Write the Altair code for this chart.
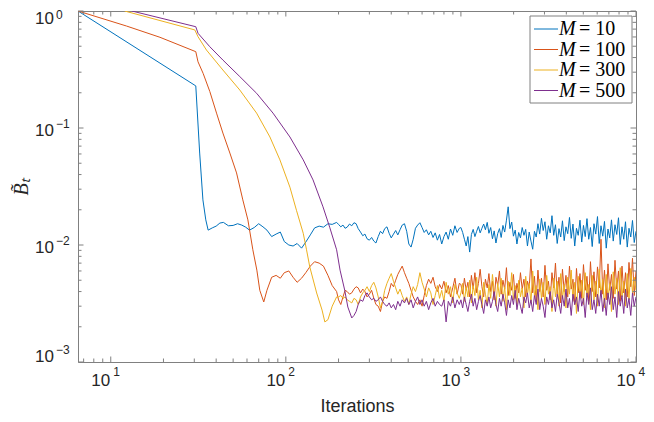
import altair as alt
import pandas as pd

# ---------------- data ----------------
series_names = ["M = 10", "M = 100", "M = 300", "M = 500"]
legend_numbers = ["= 10", "= 100", "= 300", "= 500"]
colors = ["#0072BD", "#D95319", "#EDB120", "#7E2F8E"]

# iteration grid of the noisy tails, three stretches
iters_a = [36, 38, 40, 42, 44, 47, 50, 53, 56, 59, 62, 66, 70, 74, 78, 83, 88, 93, 98, 104,
           110, 116, 123, 130, 138, 146, 155, 164, 174, 184, 195]
iters_b = [200, 206, 212, 218, 224, 231, 238, 245, 252, 259, 267, 275, 283, 291, 300,
           309, 318, 327, 337, 347, 357, 367, 378, 389, 400, 412, 424, 436, 449, 462,
           476, 490, 504, 519, 534, 550, 566, 583, 600, 617, 635, 654, 673, 693, 713,
           734, 755, 777, 800, 823, 847, 872, 898, 924, 951, 979]
iters_c = [1000, 1023, 1047, 1072, 1096, 1122, 1148, 1175, 1202, 1230,
           1259, 1288, 1318, 1349, 1380, 1413, 1445, 1479, 1514, 1549,
           1585, 1622, 1660, 1698, 1738, 1778, 1820, 1862, 1905, 1950,
           1995, 2042, 2089, 2138, 2188, 2239, 2291, 2344, 2399, 2455,
           2512, 2570, 2630, 2692, 2754, 2818, 2884, 2951, 3020, 3090,
           3162, 3236, 3311, 3388, 3467, 3548, 3631, 3715, 3802, 3890,
           3981, 4074, 4169, 4266, 4365, 4467, 4571, 4677, 4786, 4898,
           5012, 5129, 5248, 5370, 5495, 5623, 5754, 5888, 6026, 6166,
           6310, 6457, 6607, 6761, 6918, 7079, 7244, 7413, 7586, 7762,
           7943, 8128, 8318, 8511, 8710, 8913, 9120, 9333, 9550, 9772, 10000]

# ---- M = 10 ----
m10_head_iters = [6.5, 30.6, 32.2, 33.6, 34.9]
m10_head_vals = [1.0, 0.229, 0.0611, 0.0243, 0.0164]
m10_a = [0.0134, 0.0140, 0.0145, 0.0154, 0.0156, 0.0146, 0.0147, 0.0152, 0.0148, 0.0142,
         0.0134, 0.0141, 0.0152, 0.0143, 0.0134, 0.0118, 0.0124, 0.0129, 0.0107, 0.0100,
         0.0098, 0.0103, 0.0094, 0.0106, 0.0122, 0.0140, 0.0145, 0.0142, 0.0152, 0.0150,
         0.0156]
m10_b = [0.0150, 0.0143, 0.0148, 0.0139, 0.0142, 0.0151, 0.0146, 0.0155, 0.0152, 0.0138,
         0.0129, 0.0120, 0.0124, 0.0113, 0.0110, 0.0116, 0.0108, 0.0104, 0.0118, 0.0131,
         0.0125, 0.0138, 0.0143, 0.0126, 0.0115, 0.0124, 0.0133, 0.0122, 0.0135, 0.0148,
         0.0152, 0.0131, 0.0102, 0.0096, 0.0112, 0.0139, 0.0148, 0.0155, 0.0141, 0.0128,
         0.0135, 0.0122, 0.0131, 0.0116, 0.0127, 0.0110, 0.0123, 0.0102, 0.0118, 0.0129,
         0.0112, 0.0137, 0.0121, 0.0146, 0.0128, 0.0139]
m10_c = [0.0141, 0.0128, 0.0112, 0.0098, 0.0118, 0.0087, 0.0123, 0.0136, 0.0118, 0.0131,
         0.0144, 0.0127, 0.0139, 0.0151, 0.0135, 0.0156, 0.0126, 0.0141, 0.0113, 0.0132,
         0.0104, 0.0125, 0.0138, 0.0116, 0.0147, 0.0129, 0.0163, 0.0212, 0.0138, 0.0157,
         0.0119, 0.0134, 0.0102, 0.0128, 0.0115, 0.0141, 0.0121, 0.0136, 0.0098, 0.0129,
         0.0108, 0.0092, 0.0131, 0.0117, 0.0152, 0.0124, 0.0169, 0.0133, 0.0158, 0.0112,
         0.0146, 0.0127, 0.0178, 0.0121, 0.0149, 0.0103, 0.0138, 0.0117, 0.0161, 0.0109,
         0.0143, 0.0125, 0.0172, 0.0114, 0.0151, 0.0098, 0.0139, 0.0121, 0.0163, 0.0106,
         0.0147, 0.0118, 0.0168, 0.0112, 0.0141, 0.0097, 0.0152, 0.0124, 0.0175, 0.0103,
         0.0146, 0.0119, 0.0159, 0.0094, 0.0137, 0.0115, 0.0164, 0.0108, 0.0149, 0.0123,
         0.0171, 0.0101, 0.0143, 0.0112, 0.0158, 0.0096, 0.0139, 0.0117, 0.0162, 0.0105,
         0.0131]

# ---- M = 100 ----
m100_head_iters = [6.5, 12.3, 19.1, 30.6, 31.5, 33.7, 36.8, 40.2, 43.7, 47.9, 52.3, 56.8,
                   60.7, 64.8, 68.3, 71.0, 74.8]
m100_head_vals = [1.0, 0.744, 0.596, 0.449, 0.368, 0.293, 0.205, 0.134, 0.0905, 0.0611,
                  0.0413, 0.0243, 0.0164, 0.0091, 0.0061, 0.0041, 0.00326]
m100_a = [0.0041, 0.0053, 0.0055, 0.0052, 0.0058, 0.0060, 0.0053, 0.0048, 0.0052, 0.0058,
          0.0066, 0.0072, 0.0070, 0.0066, 0.0055, 0.0045, 0.0040]
m100_b = [0.0034, 0.0031, 0.0036, 0.0041, 0.0040, 0.0038, 0.0039, 0.0042, 0.0044, 0.0043,
          0.0039, 0.0042, 0.0040, 0.0036, 0.0038, 0.0041, 0.0035, 0.0031, 0.0030, 0.0027,
          0.0033, 0.0036, 0.0035, 0.0040, 0.0047, 0.0044, 0.0050, 0.0056, 0.0061, 0.0066,
          0.0058, 0.0052, 0.0047, 0.0041, 0.0036, 0.0033, 0.0031, 0.0034, 0.0030, 0.0037,
          0.0045, 0.0051, 0.0047, 0.0053, 0.0044, 0.0040, 0.0046, 0.0042, 0.0049, 0.0039,
          0.0045, 0.0036, 0.0043, 0.0052, 0.0038, 0.0047]
m100_c = [0.0046, 0.0038, 0.0052, 0.0041, 0.0048, 0.0036, 0.0055, 0.0042, 0.0058, 0.0039,
          0.0047, 0.0062, 0.0044, 0.0036, 0.0051, 0.0043, 0.0057, 0.0040, 0.0049, 0.0034,
          0.0053, 0.0045, 0.0060, 0.0038, 0.0050, 0.0042, 0.0064, 0.0037, 0.0048, 0.0041,
          0.0056, 0.0035, 0.0047, 0.0039, 0.0058, 0.0042, 0.0051, 0.0036, 0.0049, 0.0043,
          0.0076, 0.0039, 0.0054, 0.0033, 0.0061, 0.0040, 0.0052, 0.0036, 0.0067, 0.0041,
          0.0049, 0.0034, 0.0058, 0.0043, 0.0070, 0.0038, 0.0053, 0.0032, 0.0062, 0.0040,
          0.0055, 0.0036, 0.0066, 0.0042, 0.0051, 0.0031, 0.0063, 0.0039, 0.0057, 0.0035,
          0.0068, 0.0041, 0.0054, 0.0033, 0.0072, 0.0040, 0.0059, 0.0036, 0.0065, 0.0043,
          0.0112, 0.0038, 0.0061, 0.0034, 0.0069, 0.0041, 0.0056, 0.0035, 0.0074, 0.0042,
          0.0060, 0.0033, 0.0066, 0.0039, 0.0058, 0.0036, 0.0071, 0.0044, 0.0077, 0.0037,
          0.0060]

# ---- M = 300 ----
m300_head_iters = [12.0, 30.2, 31.5, 35.2, 43.7, 54.6, 68.1, 81.1, 92.5, 105.5, 115, 125.7,
                   131.3, 137, 150, 161, 167]
m300_head_vals = [1.0, 0.689, 0.603, 0.464, 0.313, 0.211, 0.134, 0.0838, 0.0534, 0.0312,
                  0.0198, 0.0126, 0.0091, 0.0065, 0.00389, 0.00278, 0.0022]
m300_a = [0.0023, 0.0030, 0.0036]
m300_b = [0.0036, 0.0037, 0.0035, 0.0036, 0.0034, 0.0033, 0.0032, 0.0035, 0.0034, 0.0031,
          0.0036, 0.0039, 0.0041, 0.0044, 0.0040, 0.0045, 0.0048, 0.0043, 0.0036, 0.0029,
          0.0033, 0.0041, 0.0047, 0.0052, 0.0057, 0.0049, 0.0043, 0.0038, 0.0042, 0.0037,
          0.0033, 0.0036, 0.0031, 0.0038, 0.0044, 0.0040, 0.0046, 0.0058, 0.0048, 0.0042,
          0.0036, 0.0043, 0.0039, 0.0031, 0.0037, 0.0045, 0.0035, 0.0041, 0.0033, 0.0048,
          0.0038, 0.0044, 0.0032, 0.0046, 0.0039, 0.0035]
m300_c = [0.0039, 0.0047, 0.0033, 0.0044, 0.0036, 0.0050, 0.0032, 0.0045, 0.0037, 0.0053,
          0.0034, 0.0041, 0.0029, 0.0048, 0.0038, 0.0031, 0.0046, 0.0035, 0.0056, 0.0040,
          0.0030, 0.0047, 0.0036, 0.0052, 0.0033, 0.0044, 0.0028, 0.0049, 0.0037, 0.0058,
          0.0034, 0.0045, 0.0031, 0.0050, 0.0036, 0.0043, 0.0029, 0.0054, 0.0038, 0.0047,
          0.0032, 0.0060, 0.0037, 0.0045, 0.0028, 0.0051, 0.0035, 0.0048, 0.0031, 0.0055,
          0.0038, 0.0044, 0.0027, 0.0052, 0.0036, 0.0049, 0.0030, 0.0057, 0.0035, 0.0046,
          0.0029, 0.0053, 0.0038, 0.0061, 0.0033, 0.0048, 0.0026, 0.0054, 0.0037, 0.0050,
          0.0031, 0.0058, 0.0036, 0.0046, 0.0028, 0.0055, 0.0034, 0.0049, 0.0030, 0.0062,
          0.0037, 0.0051, 0.0029, 0.0056, 0.0035, 0.0047, 0.0027, 0.0059, 0.0038, 0.0052,
          0.0031, 0.0064, 0.0036, 0.0049, 0.0030, 0.0057, 0.0034, 0.0063, 0.0039, 0.0053,
          0.0041]

# ---- M = 500 ----
m500_head_iters = [13.2, 30.6, 31.5, 36.8, 43.7, 54.6, 68.1, 84.5, 105.5, 125.7, 143, 163,
                   178, 195, 204, 217, 226, 238]
m500_head_vals = [1.0, 0.734, 0.645, 0.495, 0.381, 0.275, 0.198, 0.134, 0.0838, 0.0534,
                  0.036, 0.0212, 0.0142, 0.0091, 0.0061, 0.0041, 0.00295, 0.00238]
m500_b = [0.0025, 0.0027, 0.0031, 0.0034, 0.0033, 0.0037, 0.0039, 0.0036, 0.0034, 0.0035,
          0.0033, 0.0034, 0.0036, 0.0033, 0.0031, 0.0030, 0.0032, 0.0029, 0.0031, 0.0028,
          0.0033, 0.0030, 0.0034, 0.0032, 0.0035, 0.0031, 0.0034, 0.0029, 0.0033, 0.0036,
          0.0031, 0.0034, 0.0030, 0.0033, 0.0028, 0.0032, 0.0035, 0.0030, 0.0033, 0.0031,
          0.0030, 0.0034, 0.0022, 0.0033, 0.0030, 0.0036, 0.0029, 0.0034, 0.0031]
m500_c = [0.0034, 0.0029, 0.0036, 0.0031, 0.0027, 0.0033, 0.0038, 0.0030, 0.0035, 0.0028,
          0.0033, 0.0037, 0.0031, 0.0026, 0.0034, 0.0030, 0.0036, 0.0029, 0.0033, 0.0040,
          0.0031, 0.0027, 0.0035, 0.0030, 0.0038, 0.0032, 0.0025, 0.0034, 0.0029, 0.0037,
          0.0031, 0.0041, 0.0028, 0.0035, 0.0030, 0.0026, 0.0036, 0.0032, 0.0039, 0.0029,
          0.0034, 0.0027, 0.0037, 0.0031, 0.0042, 0.0028, 0.0035, 0.0030, 0.0024, 0.0036,
          0.0031, 0.0040, 0.0029, 0.0034, 0.0027, 0.0038, 0.0032, 0.0026, 0.0037, 0.0030,
          0.0042, 0.0029, 0.0035, 0.0025, 0.0038, 0.0031, 0.0036, 0.0027, 0.0040, 0.0030,
          0.0035, 0.0024, 0.0039, 0.0031, 0.0043, 0.0028, 0.0034, 0.0026, 0.0038, 0.0030,
          0.0041, 0.0027, 0.0035, 0.0025, 0.0039, 0.0031, 0.0044, 0.0028, 0.0036, 0.0024,
          0.0040, 0.0030, 0.0037, 0.0026, 0.0042, 0.0029, 0.0035, 0.0025, 0.0039, 0.0030,
          0.0036]

# axis decoration values
x_major = [10, 100, 1000, 10000]
x_exponents = ["1", "2", "3", "4"]
x_minor = [7, 8, 9, 20, 30, 40, 50, 60, 70, 80, 90, 200, 300, 400, 500, 600, 700, 800, 900,
           2000, 3000, 4000, 5000, 6000, 7000, 8000, 9000]
y_major = [0.001, 0.01, 0.1, 1]
y_exponents = ["\u22123", "\u22122", "\u22121", "0"]
y_minor = [0.002, 0.003, 0.004, 0.005, 0.006, 0.007, 0.008, 0.009,
           0.02, 0.03, 0.04, 0.05, 0.06, 0.07, 0.08, 0.09,
           0.2, 0.3, 0.4, 0.5, 0.6, 0.7, 0.8, 0.9]


def tail_pairs(grid, vals):
    g = grid[len(grid) - len(vals):]
    return list(zip(g, vals))


rows = []
spec = [
    (series_names[0], m10_head_iters, m10_head_vals, [(iters_a, m10_a), (iters_b, m10_b), (iters_c, m10_c)]),
    (series_names[1], m100_head_iters, m100_head_vals, [(iters_a, m100_a), (iters_b, m100_b), (iters_c, m100_c)]),
    (series_names[2], m300_head_iters, m300_head_vals, [(iters_a, m300_a), (iters_b, m300_b), (iters_c, m300_c)]),
    (series_names[3], m500_head_iters, m500_head_vals, [(iters_b, m500_b), (iters_c, m500_c)]),
]
for name, hi, hv, tails in spec:
    for it, v in zip(hi, hv):
        rows.append({"series": name, "iter": it, "val": v})
    for grid, vals in tails:
        for it, v in tail_pairs(grid, vals):
            rows.append({"series": name, "iter": it, "val": v})
df = pd.DataFrame(rows)

# ---------------- chart ----------------
W, H = 558, 351
AX = "#808080"
TXT = "#262626"
FONT = "Liberation Sans"
BASE_FS = 17
EXP_FS = 12
xs = alt.Scale(type="log", domain=[6.5, 10000], nice=False)
ys = alt.Scale(type="log", domain=[0.001, 1], nice=False)
cs = alt.Scale(domain=series_names, range=colors)


def expr_map(vals, labels):
    e = "''"
    for v, l in zip(vals, labels):
        e = f"(abs(datum.value - {v}) < {v} * 0.01 ? '{l}' : {e})"
    return e


common = dict(ticks=False, domain=False, grid=False, labelFont=FONT, labelColor=TXT, labelFlush=False)

lines = alt.Chart(df).mark_line(strokeWidth=1, clip=True).encode(
    x=alt.X("iter:Q", scale=xs, axis=alt.Axis(
        orient="bottom", values=x_major, labelExpr="'10'", title="Iterations",
        labelFontSize=BASE_FS, labelAlign="right", labelOffset=-1, labelPadding=10,
        labelBaseline="top", titleFont=FONT, titleFontSize=18, titleColor=TXT,
        titleFontWeight="normal", titlePadding=9, **common)),
    y=alt.Y("val:Q", scale=ys, axis=alt.Axis(
        orient="left", values=y_major, labelExpr="'10'", title="B̃ₜ",
        labelFontSize=BASE_FS, labelAlign="right", labelPadding=24.5, labelBaseline="middle",
        labelOffset={"condition": [{"test": "datum.value > 0.5", "value": 7.5},
                                   {"test": "datum.value < 0.005", "value": -6}], "value": 2},
        titleFont="Liberation Serif", titleFontStyle="italic", titleFontSize=20,
        titleColor=TXT, titleFontWeight="normal", titlePadding=3, **common)),
    color=alt.Color("series:N", scale=cs, legend=None),
)

x_exp_axis = alt.Axis(orient="bottom", values=x_major, labelExpr=expr_map(x_major, x_exponents),
                      title=None, labelFontSize=EXP_FS, labelAlign="left", labelOffset=2,
                      labelPadding=4.5, labelBaseline="top", **common)
y_exp_axis = alt.Axis(orient="left", values=y_major, labelExpr=expr_map(y_major, y_exponents),
                      title=None, labelFontSize=EXP_FS, labelAlign="left", labelPadding=22.5,
                      labelBaseline="middle",
                      labelOffset={"condition": [{"test": "datum.value > 0.5", "value": 3.5},
                                                 {"test": "datum.value < 0.005", "value": -13}],
                                   "value": -5},
                      **common)


def xticks(vals, length, top, axis=None):
    d = pd.DataFrame({"v": vals})
    y0 = 0 if top else H
    y1 = length if top else H - length
    return alt.Chart(d).mark_rule(color=AX, strokeWidth=1).encode(
        x=alt.X("v:Q", scale=xs, axis=axis), y=alt.value(y0), y2=alt.value(y1))


def yticks(vals, length, right, axis=None):
    d = pd.DataFrame({"v": vals})
    x0 = W if right else 0
    x1 = W - length if right else length
    return alt.Chart(d).mark_rule(color=AX, strokeWidth=1).encode(
        y=alt.Y("v:Q", scale=ys, axis=axis), x=alt.value(x0), x2=alt.value(x1))


ticks = [xticks(x_major, 5.5, False, x_exp_axis), xticks(x_minor, 3.5, False),
         xticks(x_major, 5.5, True), xticks(x_minor, 3.5, True),
         yticks(y_major, 5.5, False, y_exp_axis), yticks(y_minor, 3.5, False),
         yticks(y_major, 5.5, True), yticks(y_minor, 3.5, True)]

leg_df = pd.DataFrame({"series": series_names, "num": legend_numbers})
leg_y = alt.Y("series:N", scale=alt.Scale(type="point", domain=series_names, range=[18, 79.5], padding=0), axis=None)

leg_box = alt.Chart(pd.DataFrame({"k": [0]})).mark_rect(fill="white", stroke=AX, strokeWidth=1).encode(
    x=alt.value(452), x2=alt.value(554), y=alt.value(5), y2=alt.value(92))
leg_lines = alt.Chart(leg_df).mark_rule(strokeWidth=1).encode(
    x=alt.value(456), x2=alt.value(480), y=leg_y, color=alt.Color("series:N", scale=cs, legend=None))
leg_m = alt.Chart(leg_df).mark_text(font="Liberation Serif", fontStyle="italic", fontSize=20,
                                    align="left", baseline="middle", color="black").encode(
    x=alt.value(481), y=leg_y, text=alt.value("M"))
leg_num = alt.Chart(leg_df).mark_text(font="Liberation Serif", fontSize=20,
                                      align="left", baseline="middle", color="black").encode(
    x=alt.value(501), y=leg_y, text="num:N")

chart = alt.layer(lines, *ticks, leg_box, leg_lines, leg_m, leg_num).resolve_scale(
    x="independent", y="independent"
).properties(
    width=W, height=H,
    autosize=alt.AutoSizeParams(type="none"),
    padding={"left": 70, "top": 3, "right": 10, "bottom": 60},
).configure_view(stroke=AX, strokeWidth=1)

chart.save("out.html", embed_options={"renderer": "svg", "actions": False})
